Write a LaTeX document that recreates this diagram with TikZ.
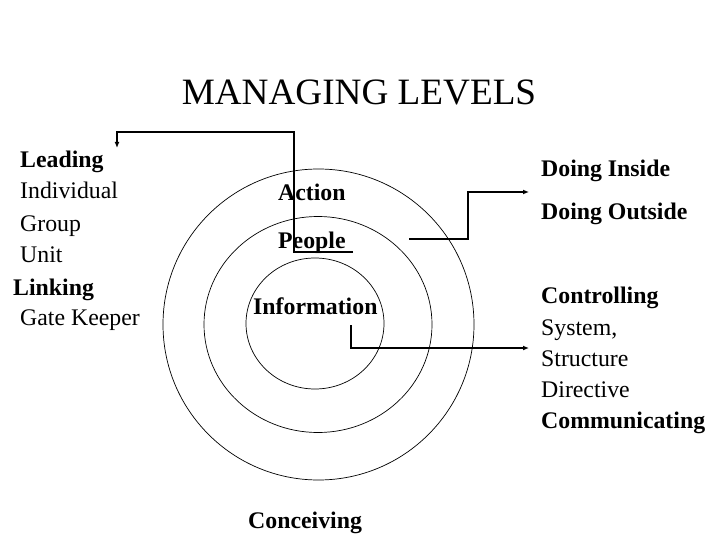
\documentclass[tikz,border=0pt]{standalone}
\usepackage{fontspec}
\setmainfont{Liberation Serif}
\usetikzlibrary{arrows.meta}
\begin{document}
\begin{tikzpicture}[x=1pt,y=-1pt,
  lbl/.style={anchor=base west,inner sep=0pt,font=\fontsize{23.8}{28}\selectfont},
  blbl/.style={lbl,font=\fontsize{23.8}{28}\selectfont\bfseries},
  ring/.style={draw,line width=0.7pt},
  conn/.style={draw,line width=1.6pt},
  arr/.style={conn,-{Latex[length=6pt,width=5pt]}}]
\useasboundingbox[fill=white] (0,0) rectangle (720,540);
\node[anchor=base,inner sep=0pt,font=\fontsize{37.2}{42}\selectfont] (title) at (359,105) {MANAGING LEVELS};
% left list
\node[blbl] (leading) at (20,168) {Leading};
\node[lbl] (individual) at (20,199) {Individual};
\node[lbl] (group) at (20,231) {Group};
\node[lbl] (unit) at (20,262) {Unit};
\node[blbl] (linking) at (13,295) {Linking};
\node[lbl] (gate) at (20,325) {Gate Keeper};
% circles
\draw[ring] (318.5,324.5) circle (155.5);
\draw[ring] (318,324.5) ellipse [x radius=114,y radius=108];
\draw[ring] (315,323.5) ellipse [x radius=69,y radius=65.5];
% centre labels
\node[blbl] (action) at (278,201) {Action};
\node[blbl] (people) at (278,248) {People};
\node[blbl] (info) at (253,314) {Information};
\node[blbl] (conceiving) at (248,528) {Conceiving};
% right list
\node[blbl] (din) at (541,177) {Doing Inside};
\node[blbl] (dout) at (541,220) {Doing Outside};
\node[blbl] (ctrl) at (541,303) {Controlling};
\node[lbl] (system) at (541,335) {System,};
\node[lbl] (structure) at (541,366) {Structure};
\node[lbl] (directive) at (541,397) {Directive};
\node[blbl] (comm) at (541,428) {Communicating};
% connectors
\coordinate (c1a) at (353,252);
\coordinate (c1b) at (117,148);
\draw[arr] (c1a) -- (294,252) -- (294,132) -- (117,132) -- (c1b);
\coordinate (c2a) at (409,239);
\coordinate (c2b) at (529,192);
\draw[arr] (c2a) -- (468,239) -- (468,192) -- (c2b);
\coordinate (c3a) at (351,325);
\coordinate (c3b) at (529,348);
\draw[arr] (c3a) -- (351,348) -- (c3b);
\end{tikzpicture}
\end{document}
